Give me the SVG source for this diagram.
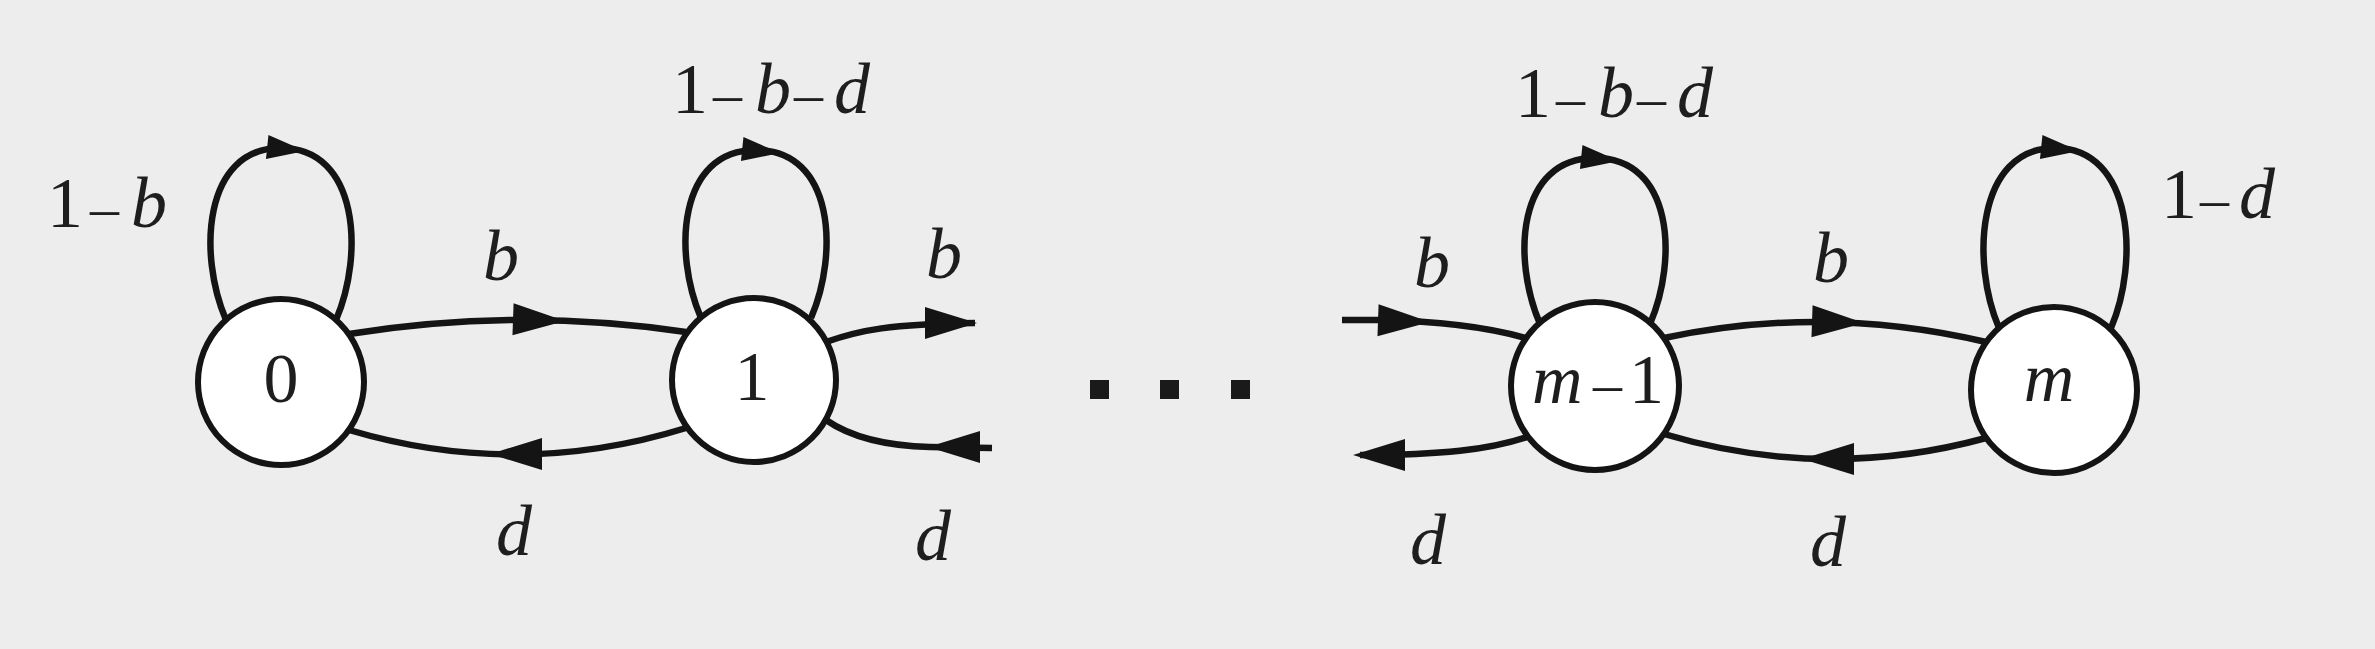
<svg xmlns="http://www.w3.org/2000/svg" width="2375" height="649" viewBox="0 0 2375 649">
<style>
.bg{fill:#ededed}
.node circle{fill:#ffffff;stroke:#141414;stroke-width:6}
.edge{fill:none;stroke:#141414;stroke-width:6.5}
.ah{fill:#141414}
text{font-family:"Liberation Serif","DejaVu Serif",serif;fill:#1e1e1e}
.lbl{font-size:72px}
.nl{font-size:70px}
.it{font-style:italic}
.ds{font-size:58px}
.dot{fill:#1a1a1a}
</style>
<defs>
<path id="ahb" class="ah" d="M0,0 L-52,-16 L-52,16 Z"/>
<path id="ahl" class="ah" d="M0,0 L-38,-12 L-38,12 Z"/>
</defs>
<rect class="bg" x="0" y="0" width="2375" height="649"/>
<g id="connectors">
<!-- self loops -->
<path class="edge" d="M226,320 C198,255 203,148 281,148 C359,148 364,255 336,320"/>
<use href="#ahl" transform="translate(305,151) rotate(6)"/>
<path class="edge" d="M701,318 C673,253 678,150 756,150 C834,150 839,253 811,318"/>
<use href="#ahl" transform="translate(780,153) rotate(6)"/>
<path class="edge" d="M1540,324 C1512,259 1517,158 1595,158 C1673,158 1678,259 1650,324"/>
<use href="#ahl" transform="translate(1619,161) rotate(6)"/>
<path class="edge" d="M1999,328 C1971,263 1976,148 2055,148 C2134,148 2139,263 2111,328"/>
<use href="#ahl" transform="translate(2079,151) rotate(6)"/>
<!-- 0 -> 1 (b) -->
<path class="edge" d="M349,334 Q518,307 686,332"/>
<use href="#ahb" transform="translate(565,321) rotate(2)"/>
<!-- 1 -> 0 (d) -->
<path class="edge" d="M686,428 Q518,480 349,430"/>
<use href="#ahb" transform="translate(490,454) rotate(180)"/>
<!-- 1 -> ... (b) -->
<path class="edge" d="M826,342 C860,330 890,324 975,323"/>
<use href="#ahb" transform="translate(977,323)"/>
<!-- ... -> 1 (d) -->
<path class="edge" d="M992,448 L930,447 C890,446 852,438 826,420"/>
<use href="#ahb" transform="translate(928,447) rotate(180)"/>
<!-- ... -> m-1 (b) -->
<path class="edge" d="M1342,320 L1380,320 C1440,321 1490,328 1526,338"/>
<use href="#ahb" transform="translate(1430,322) rotate(2)"/>
<!-- m-1 -> ... (d) -->
<path class="edge" d="M1530,436 C1490,450 1440,455 1360,455"/>
<use href="#ahb" transform="translate(1353,455) rotate(180)"/>
<!-- m-1 -> m (b) -->
<path class="edge" d="M1664,338 Q1825,304 1986,342"/>
<use href="#ahb" transform="translate(1864,323) rotate(2)"/>
<!-- m -> m-1 (d) -->
<path class="edge" d="M1986,438 Q1825,482 1664,434"/>
<use href="#ahb" transform="translate(1802,459) rotate(180)"/>
</g>
<g id="node-0" class="node">
<circle cx="281" cy="382" r="83"/>
<text class="nl" x="281" y="402" text-anchor="middle">0</text>
</g>
<g id="node-1" class="node">
<circle cx="754" cy="380" r="82"/>
<text class="nl" x="752" y="400" text-anchor="middle">1</text>
</g>
<g id="node-m-1" class="node">
<circle cx="1595" cy="386" r="84"/>
<text class="nl" y="403"><tspan x="1532" class="it">m</tspan><tspan x="1593" class="ds">–</tspan><tspan x="1629">1</tspan></text>
</g>
<g id="node-m" class="node">
<circle cx="2054" cy="390" r="83"/>
<text class="nl it" x="2049" y="401" text-anchor="middle">m</text>
</g>
<g id="ellipsis">
<rect class="dot" x="1090" y="380" width="19" height="19"/>
<rect class="dot" x="1160" y="380" width="19" height="19"/>
<rect class="dot" x="1231" y="380" width="19" height="19"/>
</g>
<g id="labels">
<text class="lbl" y="227"><tspan x="47">1</tspan><tspan x="90" class="ds">–</tspan><tspan x="131" class="it">b</tspan></text>
<text class="lbl" y="113"><tspan x="672">1</tspan><tspan x="713" class="ds">–</tspan><tspan x="755" class="it">b</tspan><tspan x="794" class="ds">–</tspan><tspan x="834" class="it">d</tspan></text>
<text class="lbl" y="117"><tspan x="1515">1</tspan><tspan x="1556" class="ds">–</tspan><tspan x="1598" class="it">b</tspan><tspan x="1637" class="ds">–</tspan><tspan x="1677" class="it">d</tspan></text>
<text class="lbl" y="218"><tspan x="2161">1</tspan><tspan x="2200" class="ds">–</tspan><tspan x="2239" class="it">d</tspan></text>
<text class="lbl it" x="501" y="280" text-anchor="middle">b</text>
<text class="lbl it" x="944" y="278" text-anchor="middle">b</text>
<text class="lbl it" x="1432" y="287" text-anchor="middle">b</text>
<text class="lbl it" x="1831" y="282" text-anchor="middle">b</text>
<text class="lbl it" x="514" y="555" text-anchor="middle">d</text>
<text class="lbl it" x="933" y="560" text-anchor="middle">d</text>
<text class="lbl it" x="1428" y="564" text-anchor="middle">d</text>
<text class="lbl it" x="1828" y="566" text-anchor="middle">d</text>
</g>
</svg>
